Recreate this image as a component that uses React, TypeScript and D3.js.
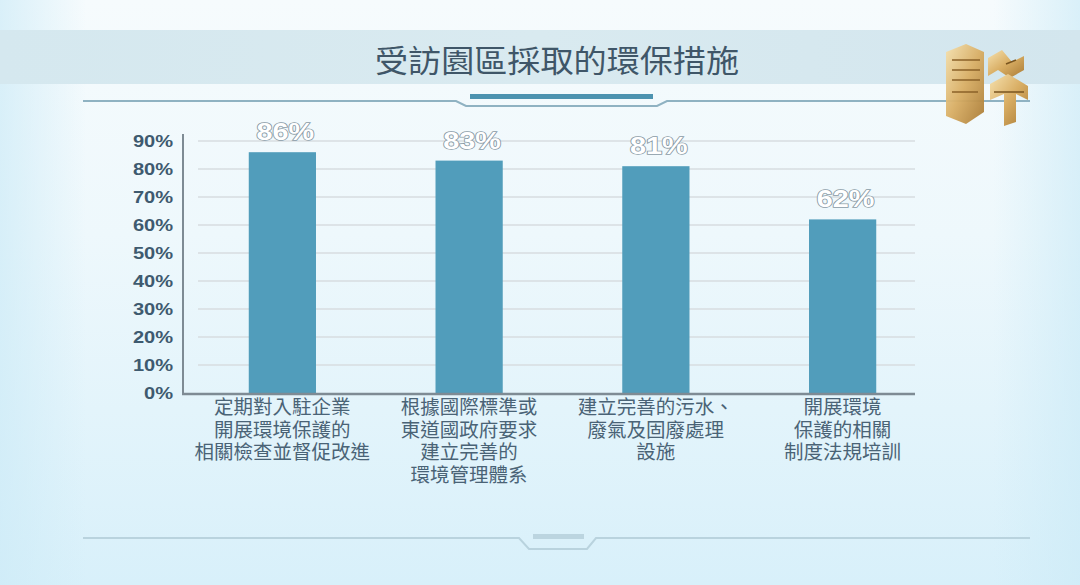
import React from "react";
import * as d3 from "d3";

const title = "受訪園區採取的環保措施";
const categories: string[][] = [
  ["定期對入駐企業", "開展環境保護的", "相關檢查並督促改進"],
  ["根據國際標準或", "東道國政府要求", "建立完善的", "環境管理體系"],
  ["建立完善的污水、", "廢氣及固廢處理", "設施"],
  ["開展環境", "保護的相關", "制度法規培訓"],
];
const values = [86, 83, 81, 62];
const yTicks = [0, 10, 20, 30, 40, 50, 60, 70, 80, 90];

const W = 1080;
const H = 585;
const CJK = "'Noto Sans CJK TC', 'Noto Sans CJK SC', sans-serif";
const LATIN = "'Liberation Sans', Arial, sans-serif";

export default function App() {
  const x = d3
    .scaleBand<number>()
    .domain(d3.range(values.length))
    .range([189, 936])
    .paddingInner(0.64)
    .paddingOuter(0.32);
  const y = d3.scaleLinear().domain([0, 90]).range([393, 141]);
  const axisX0 = 183;
  const axisX1 = 915;

  return (
    <svg
      width={W}
      height={H}
      viewBox={`0 0 ${W} ${H}`}
      style={{ position: "absolute", left: 0, top: 0, display: "block" }}
    >
      <defs>
        <linearGradient id="bg" x1="0" y1="0" x2="0" y2="1">
          <stop offset="0" stopColor="#f6fbfd" />
          <stop offset="0.4" stopColor="#eef8fc" />
          <stop offset="1" stopColor="#d8f0fa" />
        </linearGradient>
        <linearGradient id="edge" x1="0" y1="0" x2="1" y2="0">
          <stop offset="0" stopColor="#cdebf7" stopOpacity="0.7" />
          <stop offset="0.08" stopColor="#cdebf7" stopOpacity="0" />
          <stop offset="0.92" stopColor="#cdebf7" stopOpacity="0" />
          <stop offset="1" stopColor="#cdebf7" stopOpacity="0.7" />
        </linearGradient>
        <linearGradient id="band" x1="0" y1="0" x2="1" y2="0">
          <stop offset="0" stopColor="#d5e8ef" />
          <stop offset="0.5" stopColor="#d9eaf0" />
          <stop offset="1" stopColor="#d3e6ee" />
        </linearGradient>
        <linearGradient id="gold" x1="0" y1="0" x2="1" y2="1">
          <stop offset="0" stopColor="#f6e2b0" />
          <stop offset="0.5" stopColor="#d9ae64" />
          <stop offset="1" stopColor="#a97a34" />
        </linearGradient>
      </defs>

      <rect width={W} height={H} fill="url(#bg)" />
      <rect width={W} height={H} fill="url(#edge)" />
      {/* title band */}
      <rect x={0} y={30} width={W} height={54} fill="url(#band)" />
      <text
        x={557}
        y={72}
        textAnchor="middle"
        fontFamily={CJK}
        fontSize={31}
        fill="#3f5668"
        textLength={364}
        lengthAdjust="spacingAndGlyphs"
      >
        {title}
      </text>

      {/* top decorative line */}
      <path
        d="M83,101 L456,101 L466,106 L657,106 L667,101 L1030,101"
        fill="none"
        stroke="#8fb2c2"
        strokeWidth={2}
      />
      <rect x={470} y={94} width={183} height={5} fill="#4d93b0" />

      {/* logo */}
      <g>
        <path d="M946,52 L966,44 L984,52 L984,112 L966,124 L946,116 Z" fill="url(#gold)" opacity={0.95} />
        <path d="M952,60 L980,60 M952,70 L980,70 M952,80 L980,80 M952,92 L978,92" stroke="#8a6228" strokeWidth={1.5} />
        <path d="M988,58 L1002,50 L1012,62 L1024,56 L1024,70 L1010,78 L998,70 L988,76 Z" fill="url(#gold)" />
        <path d="M990,84 L1008,74 L1028,86 L1028,100 L1016,94 L1016,122 L1004,126 L1004,94 L990,100 Z" fill="url(#gold)" />
        <path d="M1006,64 L1016,60 M994,92 L1024,92" stroke="#7a5520" strokeWidth={1.5} />
      </g>

      {/* gridlines */}
      {yTicks.slice(1).map((t) => (
        <line
          key={"g" + t}
          x1={198}
          x2={axisX1}
          y1={y(t)}
          y2={y(t)}
          stroke="#d7dde1"
          strokeWidth={1.5}
        />
      ))}

      {/* bars */}
      {values.map((v, i) => (
        <rect
          key={"b" + i}
          x={x(i)!}
          y={y(v)}
          width={x.bandwidth()}
          height={y(0) - y(v)}
          fill="#519dbb"
        />
      ))}

      {/* axes */}
      <line x1={axisX0} x2={axisX0} y1={134} y2={y(0) + 1} stroke="#7e8b94" strokeWidth={2} />
      <line x1={axisX0 - 1} x2={axisX1} y1={y(0) + 1} y2={y(0) + 1} stroke="#7e8b94" strokeWidth={2.5} />

      {/* y tick labels */}
      {yTicks.map((t) => (
        <text
          key={"t" + t}
          transform={`translate(173,${y(t) + 6}) scale(1.18,1)`}
          textAnchor="end"
          fontFamily={LATIN}
          fontWeight="bold"
          fontSize={17}
          fill="#3e5a6f"
        >
          {`${t}%`}
        </text>
      ))}

      {/* value labels */}
      {values.map((v, i) => (
        <text
          key={"v" + i}
          transform={`translate(${x(i)! + x.bandwidth() / 2 + 3},${y(v) - 12}) scale(1.2,1)`}
          textAnchor="middle"
          fontFamily={LATIN}
          fontWeight="bold"
          fontSize={24}
          fill="#ffffff"
          stroke="#8a9ba6"
          strokeWidth={1.6}
          paintOrder="stroke"
        >
          {`${v}%`}
        </text>
      ))}

      {/* category labels */}
      {categories.map((lines, i) => (
        <text
          key={"c" + i}
          textAnchor="middle"
          fontFamily={CJK}
          fontSize={19.5}
          fill="#4a6376"
        >
          {lines.map((ln, j) => (
            <tspan key={j} x={x(i)! + x.bandwidth() / 2} y={414 + j * 22.7}>
              {ln}
            </tspan>
          ))}
        </text>
      ))}

      {/* bottom decorative line */}
      <path
        d="M83,538 L519,538 L529,549 L587,549 L596,538 L1030,538"
        fill="none"
        stroke="#b9d3de"
        strokeWidth={2}
      />
      <rect x={533} y={534} width={51} height={5} fill="#bcd5e0" />
    </svg>
  );
}
